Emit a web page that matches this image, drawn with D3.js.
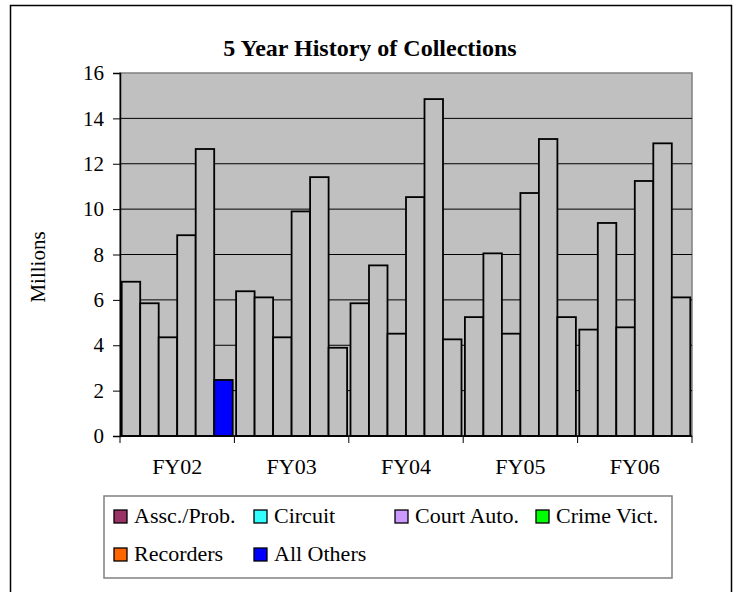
<!DOCTYPE html>
<html>
<head>
<meta charset="utf-8">
<script src="https://cdn.jsdelivr.net/npm/d3@7"></script>
<style>
  body { margin: 0; background: #fff; }
  text { font-family: "Liberation Serif", "Times New Roman", serif; }
</style>
</head>
<body>
<script>
// data (millions)
var years = ["FY02", "FY03", "FY04", "FY05", "FY06"];
var series = ["Assc./Prob.", "Circuit", "Court Auto.", "Crime Vict.", "Recorders", "All Others"];
var legendColors = ["#993366", "#33ffff", "#cc99ff", "#00ff00", "#ff6600", "#0000ff"];
var asscProb   = [6.8, 6.38, 5.85, 5.24, 4.69];
var circuit    = [5.85, 6.11, 7.52, 8.05, 9.39];
var courtAuto  = [4.35, 4.35, 4.51, 4.51, 4.79];
var crimeVict  = [8.85, 9.9, 10.53, 10.71, 11.24];
var recorders  = [12.65, 11.41, 14.85, 13.09, 12.9];
var allOthers  = [2.47, 3.89, 4.26, 5.24, 6.11];
var yTicks = [0, 2, 4, 6, 8, 10, 12, 14, 16];

var values = [asscProb, circuit, courtAuto, crimeVict, recorders, allOthers];

var svgWidth = 738, svgHeight = 592;
var margin = { top: 73, right: 46, bottom: 156, left: 120 };
var width = svgWidth - margin.left - margin.right;
var height = svgHeight - margin.top - margin.bottom;

var svg = d3.select("body")
  .append("svg")
  .attr("width", svgWidth)
  .attr("height", svgHeight);

// outer frame
svg.append("rect")
  .attr("x", 10.5).attr("y", 5.5)
  .attr("width", 721).attr("height", 600)
  .attr("fill", "none")
  .attr("stroke", "#000")
  .attr("stroke-width", 1.5);

svg.append("text")
  .attr("x", 370).attr("y", 56)
  .attr("text-anchor", "middle")
  .style("font-size", "24px")
  .style("font-weight", "bold")
  .text("5 Year History of Collections");

var chartGroup = svg.append("g").attr("transform", `translate(${margin.left}, ${margin.top})`);

var x0 = d3.scaleBand().domain(years).range([0, width]);
var x1 = d3.scaleBand().domain(series).range([1.7, x0.bandwidth() - 1.7]);
var yScale = d3.scaleLinear().domain([0, 16]).range([height, 0]);

// plot background
chartGroup.append("rect")
  .attr("width", width).attr("height", height)
  .attr("fill", "#c0c0c0")
  .attr("stroke", "#808080")
  .attr("stroke-width", 1.5);

// gridlines
chartGroup.selectAll(".grid")
  .data(yTicks.slice(1, -1))
  .enter()
  .append("line")
  .attr("x1", 0).attr("x2", width)
  .attr("y1", d => yScale(d)).attr("y2", d => yScale(d))
  .attr("stroke", "#000")
  .attr("stroke-width", 1);

// bars
var rows = [];
years.forEach(function(yr, i) {
  series.forEach(function(s, j) {
    rows.push({ year: yr, series: s, value: values[j][i], idx: j, yi: i });
  });
});

chartGroup.selectAll(".bar")
  .data(rows)
  .enter()
  .append("rect")
  .attr("x", d => x0(d.year) + x1(d.series))
  .attr("y", d => yScale(d.value))
  .attr("width", x1.bandwidth())
  .attr("height", d => height - yScale(d.value))
  // only the FY02 "All Others" bar shows its colour in the original
  .attr("fill", d => (d.yi === 0 && d.idx === 5) ? "#0000ff" : "#c0c0c0")
  .attr("stroke", "#000")
  .attr("stroke-width", 1.8);

// y axis
var yAxis = d3.axisLeft(yScale).tickValues(yTicks).tickSize(7).tickPadding(9);
var yg = chartGroup.append("g").call(yAxis);
yg.select(".domain").attr("stroke", "#000").attr("stroke-width", 1.5);
yg.selectAll(".tick line").attr("stroke", "#000");
yg.selectAll("text")
  .style("font-size", "21px")
  .style("font-family", "Liberation Serif, serif")
  .attr("fill", "#000");

// x axis with ticks at group boundaries
var xg = chartGroup.append("g").attr("transform", `translate(0, ${height})`);
xg.append("line")
  .attr("x1", 0).attr("x2", width)
  .attr("stroke", "#000").attr("stroke-width", 1.5);
xg.selectAll(".xtick")
  .data(years.concat(["end"]))
  .enter()
  .append("line")
  .attr("x1", (d, i) => i * x0.bandwidth())
  .attr("x2", (d, i) => i * x0.bandwidth())
  .attr("y1", 0).attr("y2", 7)
  .attr("stroke", "#000");
xg.selectAll(".xlabel")
  .data(years)
  .enter()
  .append("text")
  .attr("x", d => x0(d) + x0.bandwidth() / 2)
  .attr("y", 38)
  .attr("text-anchor", "middle")
  .style("font-size", "22px")
  .text(d => d);

svg.append("text")
  .attr("transform", "rotate(-90)")
  .attr("x", -267)
  .attr("y", 45)
  .attr("text-anchor", "middle")
  .style("font-size", "21px")
  .text("Millions");

// legend
var legend = svg.append("g");
legend.append("rect")
  .attr("x", 104).attr("y", 496)
  .attr("width", 568).attr("height", 82)
  .attr("fill", "#fff")
  .attr("stroke", "#808080")
  .attr("stroke-width", 1.5);

var legendPos = [[114, 523], [254, 523], [395, 523], [536, 523], [114, 561], [254, 561]];
var items = legend.selectAll(".item")
  .data(series)
  .enter()
  .append("g")
  .attr("transform", (d, i) => `translate(${legendPos[i][0]}, ${legendPos[i][1]})`);
items.append("rect")
  .attr("x", 0).attr("y", -13)
  .attr("width", 13).attr("height", 13)
  .attr("fill", (d, i) => legendColors[i])
  .attr("stroke", "#000")
  .attr("stroke-width", 1.3);
items.append("text")
  .attr("x", 20).attr("y", 0)
  .style("font-size", "22px")
  .text(d => d);
</script>
</body>
</html>
